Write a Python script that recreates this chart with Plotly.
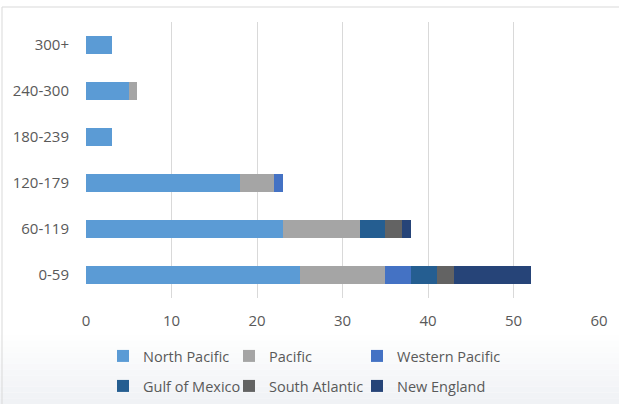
import plotly.graph_objects as go

categories = ["0-59", "60-119", "120-179", "180-239", "240-300", "300+"]
series_names = ["North Pacific", "Pacific", "Western Pacific", "Gulf of Mexico", "South Atlantic", "New England"]
north_pacific = [25, 23, 18, 3, 5, 3]
pacific = [10, 9, 4, 0, 1, 0]
western_pacific = [3, 0, 1, 0, 0, 0]
gulf_of_mexico = [3, 3, 0, 0, 0, 0]
south_atlantic = [2, 2, 0, 0, 0, 0]
new_england = [9, 1, 0, 0, 0, 0]
x_ticks = [0, 10, 20, 30, 40, 50, 60]

values = [north_pacific, pacific, western_pacific, gulf_of_mexico, south_atlantic, new_england]
colors = ["#5B9BD5", "#A5A5A5", "#4472C4", "#255E91", "#636363", "#264478"]

W, H = 619, 404
col_x = [103, 229, 357]
row_top = [340, 370]

fig = go.Figure()
layout_legends = {}
for i, (name, vals, col) in enumerate(zip(series_names, values, colors)):
    lg = "legend" if i == 0 else f"legend{i + 1}"
    fig.add_trace(go.Bar(
        y=categories, x=vals, name=name, orientation="h", showlegend=True,
        marker=dict(color=col, line=dict(width=0)), legend=lg,
    ))
    layout_legends[lg] = dict(
        xref="container", yref="container",
        x=col_x[i % 3] / W, y=1 - row_top[i // 3] / H,
        xanchor="left", yanchor="top", orientation="h", visible=True,
        font=dict(size=14.5, color="#595959"), bgcolor="rgba(0,0,0,0)",
    )

# faint gradient at the bottom of the chart area
bands = []
n = 12
y_start = 335
step = (H - y_start) / n
for k in range(n):
    t = (k + 1) / n
    r = round(255 - t * (255 - 0xF0))
    g = round(255 - t * (255 - 0xF2))
    b = round(255 - t * (255 - 0xF5))
    bands.append(dict(type="rect", xref="paper", yref="paper", layer="below",
                      x0=-86/513, x1=1 + 20/513,
                      y0=-(y_start + (k + 1) * step - 298) / 276,
                      y1=-(y_start + k * step - 298) / 276,
                      line=dict(width=0), fillcolor=f"rgb({r},{g},{b})"))

font_family = "Open Sans, Liberation Sans, sans-serif"
fig.update_layout(
    barmode="stack",
    bargap=0.6,
    width=W, height=H,
    showlegend=True,
    margin=dict(l=86, r=20, t=22, b=106, autoexpand=False),
    plot_bgcolor="rgba(0,0,0,0)",
    paper_bgcolor="white",
    font=dict(family=font_family, size=15, color="#595959"),
    xaxis=dict(
        range=[0, 60], tickvals=x_ticks, showgrid=True, gridcolor="#D9D9D9",
        gridwidth=1, zeroline=False, showline=False, ticks="", ticklabelstandoff=12,
    ),
    yaxis=dict(
        categoryorder="array", categoryarray=categories, showgrid=False,
        showline=False, ticks="", ticklabelstandoff=16,
    ),
    shapes=bands + [
        dict(type="line", xref="paper", yref="paper",
             x0=-84/513, x1=1 + 20/513, y0=1 + 15/276, y1=1 + 15/276,
             line=dict(color="#D9D9D9", width=1)),
        dict(type="line", xref="paper", yref="paper",
             x0=-84/513, x1=-84/513, y0=1 + 15/276, y1=-106/276,
             line=dict(color="#D9D9D9", width=1)),
    ],
    **layout_legends,
)

fig.write_html("out.html")
